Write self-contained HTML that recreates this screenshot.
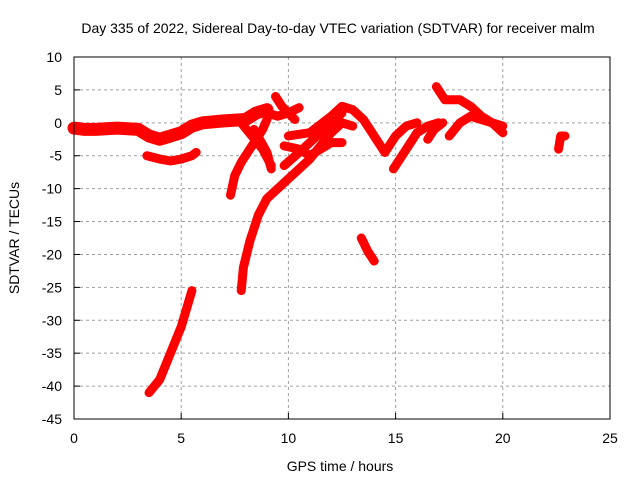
<!DOCTYPE html>
<html><head><meta charset="utf-8"><style>
body{margin:0;background:#fff}
svg{display:block;font-family:"Liberation Sans",sans-serif}
</style></head><body>
<svg id="chart" width="640" height="480">
<text x="338" y="33" font-size="14" text-anchor="middle">Day 335 of 2022, Sidereal Day-to-day VTEC variation (SDTVAR) for receiver malm</text>
<text x="340" y="471" font-size="14" text-anchor="middle">GPS time / hours</text>
<text transform="translate(19,238) rotate(-90)" font-size="14" text-anchor="middle">SDTVAR / TECUs</text>
<g id="grid"></g><g id="ticks"></g><g id="marks"></g>
<rect x="74" y="57" width="536" height="362" fill="none" stroke="#000" stroke-width="1"/>
</svg>
<script>
const xTicks=[0,5,10,15,20,25];
const yTicks=[10,5,0,-5,-10,-15,-20,-25,-30,-35,-40,-45];
const trackTimes=[
[0,0.5,1,2,3,3.5,4,4.5,5,5.5,6,7,8,8.5,9],
[3.4,4,4.5,5,5.5,5.7],
[3.5,4,4.5,5,5.5],
[7.8,7.9,8.2,8.6,9,9.5,10,10.5,11,11.5,12,12.5,13],
[7.3,7.5,7.8,8.2,8.5,8.8,9],
[7.8,8.3,8.8,9.2],
[8.4,9,9.2],
[9.4,9.7,10,10.3],
[8.6,9,9.5,10,10.5],
[10,11,12,12.5,13,13.5,14,14.5,15,15.5,16],
[9.8,10.5,11,11.5,12,12.5],
[9.8,10.5,11,11.5,12,12.5],
[13.4,13.7,14],
[14.9,15.5,16,16.5,17],
[16.5,16.8,17.2],
[16.9,17.3,18,18.5,19,19.5,20],
[17.5,18,18.5,19,20],
[22.6,22.7,22.9]
];
const trackValues=[
[-0.8,-1,-1,-0.8,-1,-2,-2.5,-2,-1.5,-0.5,0,0.3,0.5,1.5,2],
[-5,-5.5,-5.8,-5.5,-5,-4.5],
[-41,-39,-35,-31,-25.5],
[-25.5,-22,-18,-14,-11.5,-10,-8.5,-7,-5.5,-3.5,-1.5,0,-0.5],
[-11,-8,-6,-4,-2.5,-1,0.5],
[0,-2,-4,-6.5],
[-1,-4.5,-7],
[4,2.5,1.5,0.5],
[1.5,1.5,1,1.5,2.3],
[-2,-1.5,1,2.5,2,0.5,-2,-4.5,-2,-0.5,0],
[-6.5,-4.5,-3,-1.5,0,1.5],
[-3.5,-4,-5,-4,-3,-3],
[-17.5,-19.5,-21],
[-7,-4,-1.5,-0.5,0],
[-2.5,-1,0],
[5.5,3.5,3.5,2.5,1,0,-1.5],
[-2,0,1,0.5,-0.5],
[-4,-2,-2]
];
const X=t=>74+t*536/25, Y=v=>57+(10-v)*362/55;
const NS="http://www.w3.org/2000/svg";
const grid=document.getElementById('grid'),ticks=document.getElementById('ticks'),marks=document.getElementById('marks');
function mk(tag,attrs,parent){const e=document.createElementNS(NS,tag);for(const k in attrs)e.setAttribute(k,attrs[k]);parent.appendChild(e);return e;}
xTicks.forEach(t=>{
 if(t>0&&t<25){const g=mk('line',{x1:X(t),x2:X(t),y1:57,y2:419,stroke:'#a0a0a0','stroke-dasharray':'3,3'},grid);
 
 }
 const l=mk('text',{x:X(t),y:443,'font-size':14,'text-anchor':'middle'},ticks);l.textContent=t;
 
 
 mk('line',{x1:X(t),x2:X(t),y1:419,y2:413,stroke:'#000'},ticks);
});
yTicks.forEach(v=>{
 if(v<10&&v>-45){const g=mk('line',{x1:74,x2:610,y1:Y(v),y2:Y(v),stroke:'#a0a0a0','stroke-dasharray':'3,3'},grid);
 
 }
 const l=mk('text',{x:62,y:Y(v)+5,'font-size':14,'text-anchor':'end'},ticks);l.textContent=v;
 
 
 mk('line',{x1:74,x2:80,y1:Y(v),y2:Y(v),stroke:'#000'},ticks);
});
trackTimes.forEach((ts,i)=>{
 const vs=trackValues[i];
 const pts=ts.map((t,j)=>X(t)+','+Y(vs[j])).join(' ');
 const p=mk('polyline',{points:pts,fill:'none',stroke:'#f00','stroke-width':i===0?13:9,'stroke-linejoin':'round','stroke-linecap':'round'},marks);
 
 
 ts.forEach((t,j)=>{
  const m=mk('path',{d:`M${X(t)-4},${Y(vs[j])}h8M${X(t)},${Y(vs[j])-4}v8`,stroke:'#f00','stroke-width':1.5},marks);
  
  
 });
});
</script>
</body></html>
